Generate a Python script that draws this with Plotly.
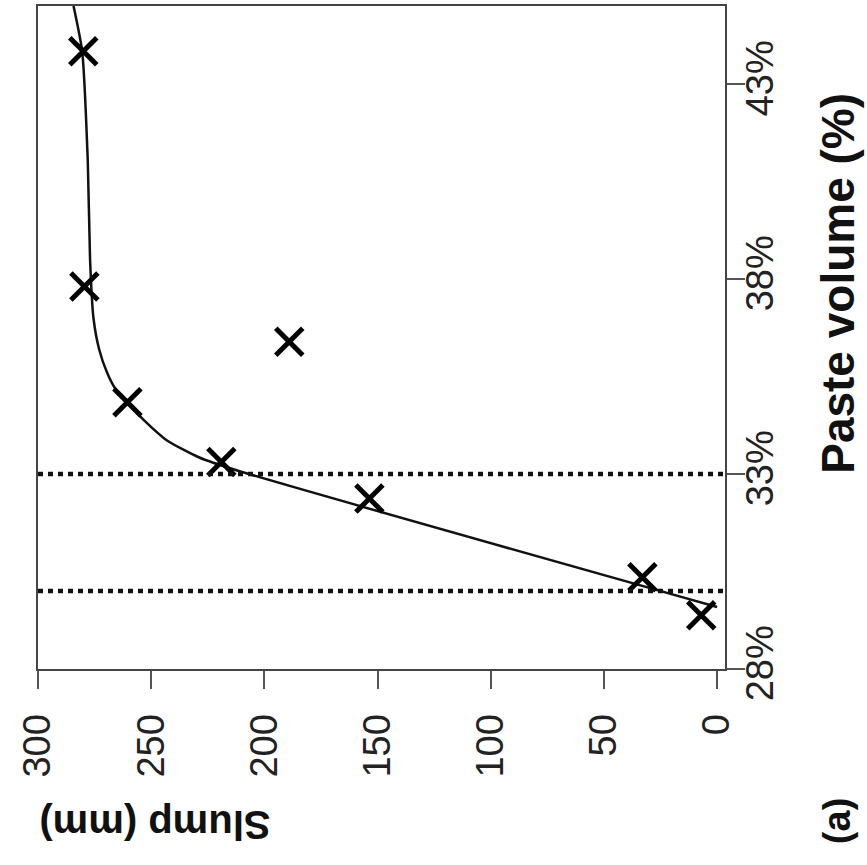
import plotly.graph_objects as go

# Measured data (slump in mm, paste volume in %)
paste_pts = [43.84, 37.81, 36.39, 34.84, 33.31, 32.37, 30.35, 29.38]
slump_pts = [280, 279.5, 189, 260.5, 219, 153.6, 33, 7]

# Fitted curve
curve_paste = [45.0, 43.84, 41.0, 38.5, 37.0, 36.2, 35.6, 35.2, 34.83, 34.37, 33.86, 33.43, 33.09, 29.59]
curve_slump = [284.3, 280.5, 278.0, 277.0, 275.5, 273.0, 269.5, 266.0, 260.6, 253.0, 243.0, 229.0, 212.0, 0]

# Threshold paste volumes (dotted lines)
thresholds = [30, 33]

slump_ticks = [0, 50, 100, 150, 200, 250, 300]
paste_ticks = [28, 33, 38, 43]
paste_ticktext = ["28%", "33%", "38%", "43%"]

FONT = "Liberation Sans, Arial, sans-serif"

fig = go.Figure()
fig.add_trace(go.Scatter(x=curve_slump, y=curve_paste, mode="lines",
                         line=dict(color="#111", width=2.5, shape="spline", smoothing=0.6),
                         showlegend=False, hoverinfo="skip"))
fig.add_trace(go.Scatter(x=slump_pts, y=paste_pts, mode="markers",
                         marker=dict(symbol="x-thin", size=27, line=dict(color="#000", width=5)),
                         showlegend=False))

for t in thresholds:
    fig.add_shape(type="line", xref="paper", x0=0, x1=1, yref="y", y0=t, y1=t,
                  line=dict(color="#111", width=4.5, dash="5px,5px"))

axis_common = dict(showline=True, mirror=True, linecolor="#444", linewidth=2,
                   ticks="outside", ticklen=18, tickwidth=1.5, tickcolor="#555",
                   showgrid=False, zeroline=False,
                   tickfont=dict(family=FONT, size=38, color="#222"), tickangle=-90)

fig.update_xaxes(range=[300, -3.5], tickvals=slump_ticks, ticklabelstandoff=10, **axis_common)
fig.update_yaxes(range=[28, 45], tickvals=paste_ticks, ticktext=paste_ticktext,
                 side="right", ticklabelstandoff=-18, **axis_common)

fig.add_annotation(text="<b>Slump (mm)</b>", xref="paper", yref="paper", x=0.17, y=-0.235,
                   xanchor="center", yanchor="middle", textangle=180, showarrow=False,
                   font=dict(family=FONT, size=40, color="#111"))
fig.add_annotation(text="<b>Paste volume (%)</b>", xref="paper", yref="paper", x=1.164, y=0.582,
                   xanchor="center", yanchor="middle", textangle=-90, showarrow=False,
                   font=dict(family=FONT, size=46, color="#111"))
fig.add_annotation(text="<b>(a)</b>", xref="paper", yref="paper", x=1.164, y=-0.23,
                   xanchor="center", yanchor="middle", textangle=-90, showarrow=False,
                   font=dict(family=FONT, size=38, color="#111"))

fig.update_layout(width=867, height=865, margin=dict(l=38, r=142, t=4, b=196),
                  plot_bgcolor="white", paper_bgcolor="white")

fig.write_html("out.html")
